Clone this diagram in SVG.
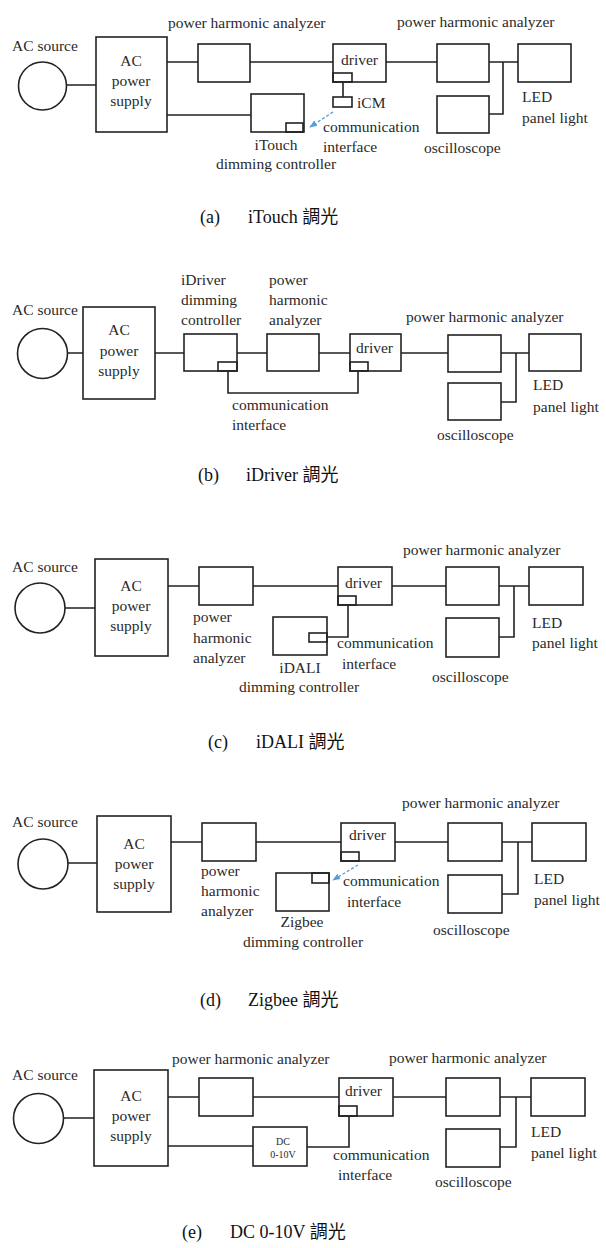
<svg xmlns="http://www.w3.org/2000/svg" width="606" height="1248" viewBox="0 0 606 1248">
<defs>
<style>
.bx{fill:#fff;stroke:#222;stroke-width:1.6}
.sm{fill:none;stroke:#222;stroke-width:1.6}
.ln{fill:none;stroke:#222;stroke-width:1.6}
.ds{fill:none;stroke:#5b9bd5;stroke-width:1.3;stroke-dasharray:3,2}
.t{font-family:"Liberation Serif","Times New Roman",serif;font-size:15.5px;fill:#2a2a2a}
.m{text-anchor:middle}
.s{font-size:10px}
.cap{font-family:"Liberation Serif","Noto Sans CJK TC",serif;font-size:18px;fill:#111}
</style>
<marker id="ah" viewBox="0 0 10 10" refX="9" refY="5" markerWidth="6" markerHeight="6" orient="auto-start-reverse">
<path d="M0,1 L10,5 L0,9 z" fill="#5b9bd5"/>
</marker>
</defs>

<!-- Panel (a) -->
<g id="a-source"><text class="t" x="12" y="51">AC source</text><circle class="bx" cx="42.5" cy="86" r="24"/></g>
<g id="a-acps"><rect class="bx" x="96" y="37" width="71" height="95"/><text class="t m" x="131" y="66">AC</text><text class="t m" x="131" y="86">power</text><text class="t m" x="131" y="106">supply</text></g>
<g id="a-pha1"><rect class="bx" x="198" y="44" width="52" height="38"/><text class="t" x="168" y="28">power harmonic analyzer</text></g>
<g id="a-itouch"><rect class="bx" x="251" y="94" width="53" height="38"/><rect class="sm" x="286" y="123" width="17" height="9"/><text class="t m" x="276" y="150">iTouch</text><text class="t m" x="276" y="169">dimming controller</text></g>
<g id="a-driver"><rect class="bx" x="333" y="44" width="53" height="38"/><rect class="sm" x="333" y="73" width="19" height="9"/><text class="t" x="341" y="65">driver</text></g>
<g id="a-icm"><rect class="bx" x="333" y="97" width="19" height="10"/><text class="t" x="357" y="108">iCM</text><text class="t" x="323" y="132">communication</text><text class="t" x="323" y="152">interface</text></g>
<g id="a-pha2"><rect class="bx" x="437" y="44" width="52" height="38"/><text class="t" x="397" y="27">power harmonic analyzer</text></g>
<g id="a-led"><rect class="bx" x="518" y="44" width="53" height="38"/><text class="t" x="522" y="102">LED</text><text class="t" x="522" y="123">panel light</text></g>
<g id="a-osc"><rect class="bx" x="437" y="96" width="52" height="37"/><text class="t" x="424" y="153">oscilloscope</text></g>
<g id="a-caption"><text class="cap" x="200" y="223">(a)</text><text class="cap" x="248" y="223">iTouch 調光</text></g>

<!-- Panel (b) -->
<g id="b-source"><text class="t" x="12" y="315">AC source</text><circle class="bx" cx="42.5" cy="353.5" r="25"/></g>
<g id="b-acps"><rect class="bx" x="83" y="307" width="72" height="92"/><text class="t m" x="119" y="335">AC</text><text class="t m" x="119" y="355.5">power</text><text class="t m" x="119" y="376">supply</text></g>
<g id="b-idriver"><rect class="bx" x="184" y="334" width="53" height="37"/><rect class="sm" x="218" y="362" width="19" height="9"/><text class="t" x="181" y="285">iDriver</text><text class="t" x="181" y="305">dimming</text><text class="t" x="181" y="325">controller</text></g>
<g id="b-pha1"><rect class="bx" x="267" y="334" width="52" height="37"/><text class="t" x="269" y="285">power</text><text class="t" x="269" y="305">harmonic</text><text class="t" x="269" y="325">analyzer</text></g>
<g id="b-driver"><rect class="bx" x="350" y="334" width="51" height="37"/><rect class="sm" x="350" y="362" width="18" height="9"/><text class="t" x="356" y="353">driver</text></g>
<g id="b-comm"><text class="t" x="232" y="410">communication</text><text class="t" x="232" y="430">interface</text></g>
<g id="b-pha2"><rect class="bx" x="448" y="335" width="53" height="37"/><text class="t" x="406" y="322">power harmonic analyzer</text></g>
<g id="b-led"><rect class="bx" x="529" y="334" width="52" height="37"/><text class="t" x="533" y="390">LED</text><text class="t" x="533" y="412">panel light</text></g>
<g id="b-osc"><rect class="bx" x="448" y="383" width="53" height="37"/><text class="t" x="437" y="440">oscilloscope</text></g>
<g id="b-caption"><text class="cap" x="198" y="481">(b)</text><text class="cap" x="246" y="481">iDriver 調光</text></g>

<!-- Panel (c) -->
<g id="c-source"><text class="t" x="12" y="572">AC source</text><circle class="bx" cx="40" cy="608" r="25"/></g>
<g id="c-acps"><rect class="bx" x="95" y="559" width="73" height="97"/><text class="t m" x="131" y="591">AC</text><text class="t m" x="131" y="611">power</text><text class="t m" x="131" y="631">supply</text></g>
<g id="c-pha1"><rect class="bx" x="199" y="567" width="54" height="38"/><text class="t" x="193" y="622">power</text><text class="t" x="193" y="643">harmonic</text><text class="t" x="193" y="663">analyzer</text></g>
<g id="c-driver"><rect class="bx" x="338" y="567" width="54" height="38"/><rect class="sm" x="338" y="596" width="18" height="9"/><text class="t" x="345" y="588">driver</text></g>
<g id="c-idali"><rect class="bx" x="273" y="617" width="54" height="38"/><rect class="sm" x="309" y="633" width="18" height="9"/><text class="t m" x="300" y="673">iDALI</text><text class="t m" x="299" y="692">dimming controller</text></g>
<g id="c-comm"><text class="t" x="337" y="648">communication</text><text class="t" x="342" y="669">interface</text></g>
<g id="c-pha2"><rect class="bx" x="446" y="567" width="53" height="38"/><text class="t" x="403" y="555">power harmonic analyzer</text></g>
<g id="c-led"><rect class="bx" x="529" y="567" width="54" height="38"/><text class="t" x="532" y="628">LED</text><text class="t" x="532" y="648">panel light</text></g>
<g id="c-osc"><rect class="bx" x="446" y="618" width="53" height="39"/><text class="t" x="432" y="682">oscilloscope</text></g>
<g id="c-caption"><text class="cap" x="208" y="748">(c)</text><text class="cap" x="256" y="748">iDALI 調光</text></g>

<!-- Panel (d) -->
<g id="d-source"><text class="t" x="12" y="827">AC source</text><circle class="bx" cx="43" cy="864" r="25"/></g>
<g id="d-acps"><rect class="bx" x="97" y="816" width="74" height="96"/><text class="t m" x="134" y="849">AC</text><text class="t m" x="134" y="869">power</text><text class="t m" x="134" y="889">supply</text></g>
<g id="d-pha1"><rect class="bx" x="202" y="823" width="54" height="38"/><text class="t" x="201" y="876">power</text><text class="t" x="201" y="896">harmonic</text><text class="t" x="201" y="916">analyzer</text></g>
<g id="d-zigbee"><rect class="bx" x="276" y="873" width="53" height="38"/><rect class="sm" x="312" y="873" width="17" height="10"/><text class="t m" x="302" y="927">Zigbee</text><text class="t m" x="303" y="947">dimming controller</text></g>
<g id="d-driver"><rect class="bx" x="341" y="823" width="54" height="38"/><rect class="sm" x="341" y="852" width="18" height="9"/><text class="t" x="349" y="840">driver</text></g>
<g id="d-comm"><text class="t" x="343" y="886">communication</text><text class="t" x="347" y="907">interface</text></g>
<g id="d-pha2"><rect class="bx" x="448" y="823" width="54" height="38"/><text class="t" x="402" y="808">power harmonic analyzer</text></g>
<g id="d-led"><rect class="bx" x="532" y="823" width="54" height="38"/><text class="t" x="534" y="884">LED</text><text class="t" x="534" y="905">panel light</text></g>
<g id="d-osc"><rect class="bx" x="448" y="875" width="54" height="38"/><text class="t" x="433" y="935">oscilloscope</text></g>
<g id="d-caption"><text class="cap" x="200" y="1006">(d)</text><text class="cap" x="248" y="1006">Zigbee 調光</text></g>

<!-- Panel (e) -->
<g id="e-source"><text class="t" x="12" y="1080">AC source</text><circle class="bx" cx="38.5" cy="1118.5" r="25"/></g>
<g id="e-acps"><rect class="bx" x="94" y="1070" width="74" height="96"/><text class="t m" x="131" y="1101">AC</text><text class="t m" x="131" y="1121">power</text><text class="t m" x="131" y="1141">supply</text></g>
<g id="e-pha1"><rect class="bx" x="199" y="1078" width="54" height="38"/><text class="t" x="172" y="1064">power harmonic analyzer</text></g>
<g id="e-dc"><rect class="bx" x="253" y="1127" width="54" height="39"/><text class="t m s" x="283" y="1145">DC</text><text class="t m s" x="283" y="1158">0-10V</text></g>
<g id="e-driver"><rect class="bx" x="339" y="1078" width="54" height="38"/><rect class="sm" x="339" y="1106" width="18" height="10"/><text class="t" x="345" y="1096">driver</text></g>
<g id="e-comm"><text class="t" x="333" y="1160">communication</text><text class="t" x="338" y="1180">interface</text></g>
<g id="e-pha2"><rect class="bx" x="446" y="1078" width="54" height="38"/><text class="t" x="389" y="1063">power harmonic analyzer</text></g>
<g id="e-led"><rect class="bx" x="531" y="1078" width="54" height="38"/><text class="t" x="531" y="1137">LED</text><text class="t" x="531" y="1158">panel light</text></g>
<g id="e-osc"><rect class="bx" x="446" y="1129" width="54" height="38"/><text class="t" x="435" y="1187">oscilloscope</text></g>
<g id="e-caption"><text class="cap" x="182" y="1238">(e)</text><text class="cap" x="230" y="1238">DC 0-10V 調光</text></g>

<!-- Connectors -->
<g id="connectors">
<path class="ln" d="M66.5,85 H96 M167,62 H198 M250,62 H333 M386,62 H437 M489,62 H518 M503,62 V114 H489 M167,115 H251 M343,82 V97"/>
<path class="ds" d="M333,112 L310,127" marker-end="url(#ah)"/>
<path class="ln" d="M67.5,353 H83 M155,353 H184 M237,353 H267 M319,353 H350 M401,353 H448 M501,353 H529 M516,353 V402 H501 M228,371 V393 H358 V371"/>
<path class="ln" d="M65,608 H95 M168,586 H199 M253,586 H338 M392,586 H446 M499,586 H529 M514,586 V637 H499 M327,637 H348 V605"/>
<path class="ln" d="M68,863 H97 M171,842 H202 M256,842 H341 M395,842 H448 M502,842 H532 M518,842 V894 H502"/>
<path class="ds" d="M358,865 L333,880" marker-end="url(#ah)"/>
<path class="ln" d="M63.5,1118 H94 M168,1097 H199 M253,1097 H339 M393,1097 H446 M500,1097 H531 M516,1097 V1147 H500 M168,1146 H253 M307,1147 H349 V1116"/>
</g>
</svg>
